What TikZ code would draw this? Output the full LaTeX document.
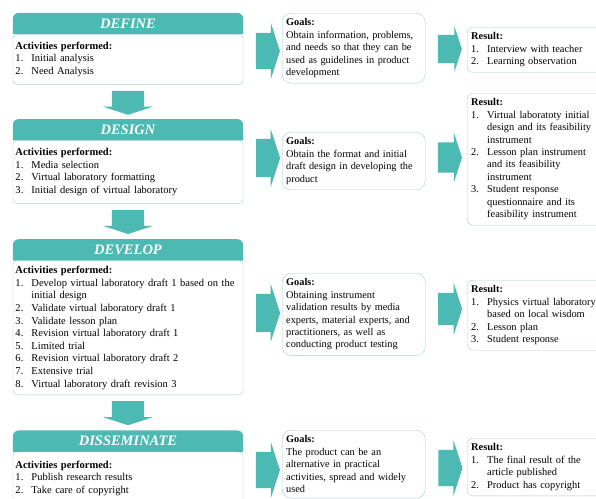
\documentclass[tikz,border=0pt]{standalone}
\usepackage{fontspec}
\setmainfont{Liberation Serif}
\usetikzlibrary{shapes,arrows,positioning,backgrounds}
\definecolor{tealfill}{RGB}{76,186,179}
\definecolor{boxline}{RGB}{172,208,204}
\newcommand{\itm}[2]{\par\hangindent=16pt\hangafter=1\noindent\makebox[16pt][l]{#1.}#2\par}
\tikzset{
        stagehead/.style = {minimum width=230pt, minimum height=21pt, inner sep=0pt, text=white, font=\fontsize{14.5}{16}\selectfont\bfseries\itshape},
        stagebody/.style = {draw=boxline, fill=white, rounded corners=4pt, text width=225pt, inner xsep=2.5pt, inner ysep=3pt, align=left, font=\fontsize{10.5}{12.6}\selectfont},
        goalbox/.style = {draw=boxline, fill=white, rounded corners=9pt, text width=135pt, inner xsep=4pt, inner ysep=5.5pt, align=left, anchor=north west, font=\fontsize{10.3}{12.4}\selectfont},
        resultbox/.style = {draw=boxline, fill=white, rounded corners=6pt, text width=140pt, inner xsep=4pt, inner ysep=5.5pt, align=left, anchor=north west, font=\fontsize{10.4}{12.4}\selectfont},
        downarrow/.style = {single arrow, fill=tealfill, rotate=-90, minimum height=24pt, inner xsep=0pt, inner ysep=16pt, single arrow head extend=9pt, single arrow tip angle=144},
        rightarrow/.style = {single arrow, fill=tealfill, minimum height=24pt, inner xsep=0pt, inner ysep=18pt, single arrow head extend=10pt, single arrow tip angle=144},
    }

\begin{document}
\begin{tikzpicture}[x=1pt, y=-1pt]
    \useasboundingbox (0,0) rectangle (596,498);

    \node [stagehead] (defhead) at (128,23.5) {DEFINE};
    \node [stagebody, minimum height=50pt, below=0pt of defhead] (defbody) {\textbf{Activities performed:}\itm{1}{Initial analysis}\itm{2}{Need Analysis}};
    \node [downarrow, below=6pt of defbody, anchor=tail] (dwn1) {};

    \node [stagehead, below=4pt of dwn1.tip] (deshead) {DESIGN};
    \node [stagebody, minimum height=63pt, below=0pt of deshead] (desbody) {\textbf{Activities performed:}\itm{1}{Media selection}\itm{2}{Virtual laboratory formatting}\itm{3}{Initial design of virtual laboratory}};
    \node [downarrow, below=6pt of desbody, anchor=tail] (dwn2) {};

    \node [stagehead, below=5pt of dwn2.tip] (devhead) {DEVELOP};
    \node [stagebody, minimum height=134pt, below=0pt of devhead] (devbody) {\textbf{Activities performed:}\itm{1}{Develop virtual laboratory draft 1 based on the\break initial design}\itm{2}{Validate virtual laboratory draft 1}\itm{3}{Validate lesson plan}\itm{4}{Revision virtual laboratory draft 1}\itm{5}{Limited trial}\itm{6}{Revision virtual laboratory draft 2}\itm{7}{Extensive trial}\itm{8}{Virtual laboratory draft revision 3}};
    \node [downarrow, below=6pt of devbody, anchor=tail] (dwn3) {};

    \node [stagehead, below=5pt of dwn3.tip] (dishead) {DISSEMINATE};
    \node [stagebody, minimum height=52pt, below=0pt of dishead] (disbody) {\textbf{Activities performed:}\itm{1}{Publish research results}\itm{2}{Take care of copyright}};

    \node [rightarrow, inner ysep=18pt] (defarr) at (265,51) {};
    \node [goalbox] (defgoal) at (282,13) {\textbf{Goals:}\\ Obtain information, problems,\\ and needs so that they can be\\ used as guidelines in product\\ development};
    \node [rightarrow, inner ysep=14pt, single arrow head extend=9pt] (defarrb) at (447.5,49) {};
    \node [resultbox] (defres) at (467,27) {\textbf{Result:}\itm{1}{Interview with teacher}\itm{2}{Learning observation}};

    \node [rightarrow, inner ysep=19pt] (desarr) at (265,158) {};
    \node [goalbox] (desgoal) at (282,132) {\textbf{Goals:}\\ Obtain the format and initial\\ draft design in developing the\\ product};
    \node [rightarrow, inner ysep=15pt] (desarrb) at (447.5,157.5) {};
    \node [resultbox] (desres) at (467,93) {\textbf{Result:}\itm{1}{Virtual laboratoty initial\break design and its feasibility\break instrument}\itm{2}{Lesson plan instrument\break and its feasibility\break instrument}\itm{3}{Student response\break questionnaire and its\break feasibility instrument}};

    \node [rightarrow, inner ysep=19pt] (devarr) at (265,313) {};
    \node [goalbox] (devgoal) at (282,273) {\textbf{Goals:}\\ Obtaining instrument\\ validation results by media\\ experts, material experts, and\\ practitioners, as well as\\ conducting product testing};
    \node [rightarrow, inner ysep=16pt] (devarrb) at (447.5,309) {};
    \node [resultbox] (devres) at (467,280) {\textbf{Result:}\itm{1}{Physics virtual laboratory\break based on local wisdom}\itm{2}{Lesson plan}\itm{3}{Student response}};

    \node [rightarrow, inner ysep=18pt] (disarr) at (265,470) {};
    \node [goalbox] (disgoal) at (282,430) {\textbf{Goals:}\\ The product can be an\\ alternative in practical\\ activities, spread and widely\\ used};
    \node [rightarrow, inner ysep=18pt] (disarrb) at (447.5,468) {};
    \node [resultbox] (disres) at (467,438) {\textbf{Result:}\itm{1}{The final result of the\break article published}\itm{2}{Product has copyright}};

    \begin{pgfonlayer}{background}
        \fill [white] (0,0) rectangle (596,498);
        \foreach \h in {defhead,deshead,devhead,dishead}
            \fill [tealfill] (\h.south west) [rounded corners=6pt] -- (\h.north west) -- (\h.north east) [sharp corners] -- (\h.south east) -- cycle;
    \end{pgfonlayer}

\end{tikzpicture}
\end{document}
